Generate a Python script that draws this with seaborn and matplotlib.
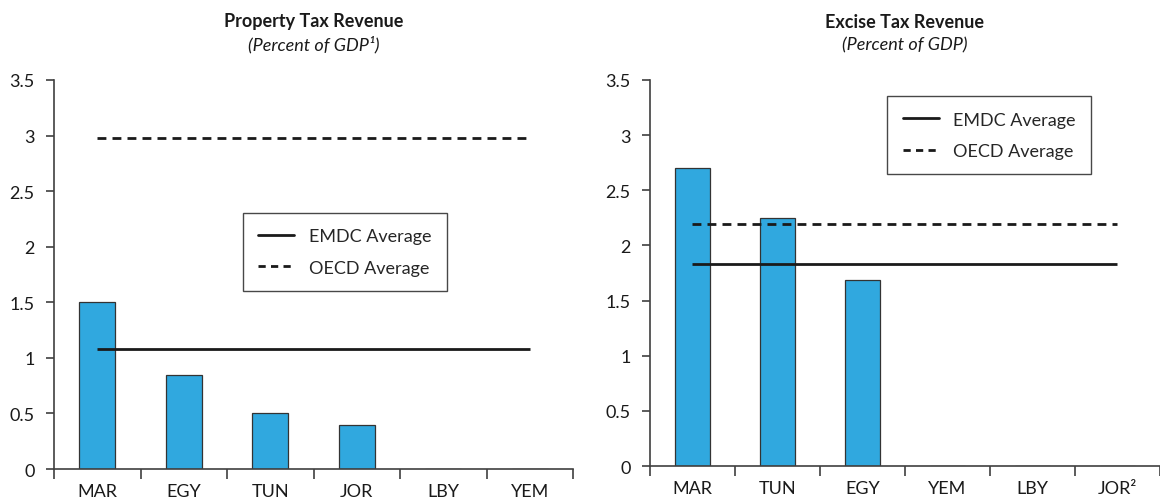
import matplotlib
matplotlib.use("Agg")
import matplotlib.pyplot as plt
import seaborn as sns
import pandas as pd
from matplotlib.lines import Line2D

# property tax panel
prop_countries = ["MAR", "EGY", "TUN", "JOR", "LBY", "YEM"]
prop_values = [1.5, 0.85, 0.5, 0.4, 0.0, 0.0]
prop_emdc = 1.08
prop_oecd = 2.98

# excise tax panel
exc_countries = ["MAR", "TUN", "EGY", "YEM", "LBY", "JOR²"]
exc_values = [2.7, 2.25, 1.69, 0.0, 0.0, 0.0]
exc_emdc = 1.83
exc_oecd = 2.19

yticks = [0, 0.5, 1, 1.5, 2, 2.5, 3, 3.5]
ytick_labels = ["0", "0.5", "1", "1.5", "2", "2.5", "3", "3.5"]

sns.set_style("white")
plt.rcParams["font.family"] = ["Lato", "DejaVu Sans"]

bar_color = "#30a8df"
axis_color = "#404040"
fs = 13

fig = plt.figure(figsize=(11.6, 5.02), dpi=100)
ax1 = fig.add_axes([0.0466, 0.0637, 0.4474, 0.775])
ax2 = fig.add_axes([0.5603, 0.0697, 0.4397, 0.769])


def panel(ax, countries, values, emdc, oecd, title, subtitle, leg_pos):
    df = pd.DataFrame({"country": countries, "value": values})
    sns.barplot(data=df, x="country", y="value", order=countries, ax=ax,
                color=bar_color, width=0.42, edgecolor="#333333",
                linewidth=0.9, saturation=1)
    n = len(countries)
    ax.hlines(emdc, 0, n - 1, colors="#1a1a1a", linewidth=2.0)
    ax.hlines(oecd, 0, n - 1, colors="#1a1a1a", linewidth=2.0,
              linestyles=(0, (3.2, 2.2)))
    ax.set_xlim(-0.5, n - 0.5)
    ax.set_ylim(0, 3.5)
    ax.set_yticks(yticks)
    ax.set_yticklabels(ytick_labels)
    ax.set_xlabel("")
    ax.set_ylabel("")
    for s in ["top", "right"]:
        ax.spines[s].set_visible(False)
    for s in ["left", "bottom"]:
        ax.spines[s].set_color(axis_color)
        ax.spines[s].set_linewidth(1.2)
    ax.tick_params(axis="y", length=6, width=1.2, color=axis_color,
                   labelsize=fs, pad=8, left=True, labelcolor="#1a1a1a")
    ax.tick_params(axis="x", which="major", length=0, labelsize=fs, pad=10,
                   labelcolor="#1a1a1a")
    ax.set_xticks([i - 0.5 for i in range(n + 1)], minor=True)
    ax.tick_params(axis="x", which="minor", length=7, width=1.2,
                   color=axis_color, bottom=True)
    ax.text(0.5, 1.152, title, transform=ax.transAxes, ha="center",
            va="center", fontsize=fs, fontweight="bold", color="#1a1a1a")
    ax.text(0.5, 1.093, subtitle, transform=ax.transAxes, ha="center",
            va="center", fontsize=fs, style="italic", color="#1a1a1a")
    handles = [Line2D([], [], color="#1a1a1a", lw=2.0),
               Line2D([], [], color="#1a1a1a", lw=2.0, ls=(0, (2.6, 1.9)))]
    leg = ax.legend(handles, ["EMDC Average", "OECD Average"],
                    loc="center", bbox_to_anchor=leg_pos, fontsize=fs,
                    frameon=True, fancybox=False, edgecolor="#1a1a1a",
                    handlelength=2.0, borderpad=0.85, labelspacing=0.85)
    leg.get_frame().set_linewidth(1.0)


panel(ax1, prop_countries, prop_values, prop_emdc, prop_oecd,
      "Property Tax Revenue", "(Percent of GDP¹)", (0.56, 0.558))
panel(ax2, exc_countries, exc_values, exc_emdc, exc_oecd,
      "Excise Tax Revenue", "(Percent of GDP)", (0.665, 0.857))

fig.savefig("out.png", dpi=100)
